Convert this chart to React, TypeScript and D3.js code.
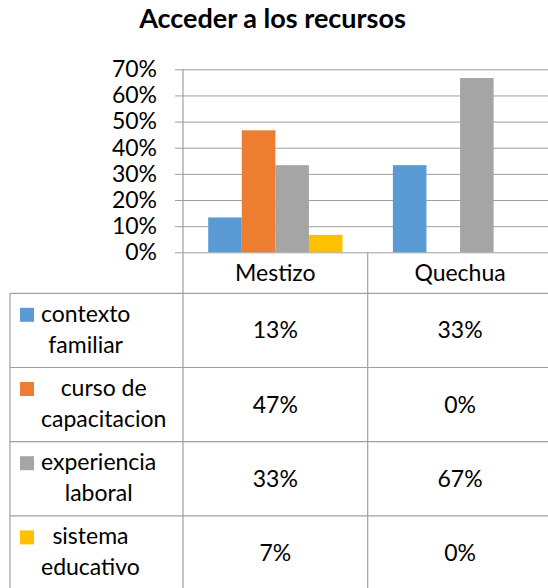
import * as d3 from 'd3';
import { useEffect, useRef } from 'react';

const title = 'Acceder a los recursos';
const categories = ['Mestizo', 'Quechua'];
const seriesNames = ['contexto familiar', 'curso de capacitacion', 'experiencia laboral', 'sistema educativo'];
// how Excel wrapped the legend labels in the data table
const seriesLines = [['contexto', 'familiar'], ['curso de', 'capacitacion'], ['experiencia', 'laboral'], ['sistema', 'educativo']];
const seriesColors = ['#5b9bd5', '#ed7d31', '#a5a5a5', '#ffc000'];
const mestizo = [0.1333, 0.4667, 0.3333, 0.0667];
const quechua = [0.3333, 0, 0.6667, 0];
const yTicks = [0, 0.1, 0.2, 0.3, 0.4, 0.5, 0.6, 0.7];

const FONT = 'Lato, Carlito, Calibri, "Open Sans", sans-serif';

const ChartFactory = (container: HTMLElement) => {
  const width = 548;
  const height = 588;
  const left = 183;
  const top = 69.3;
  const base = 252.3;
  const colW = 184.7;
  const tableLeft = 10;
  const headBottom = 293.3;
  const rowH = 74.2;
  const grid = '#a0a0a0';
  const values = [mestizo, quechua];
  const pct = d3.format('.0%');

  const x = d3.scaleBand<string>().domain(categories).range([left, left + colW * categories.length]);
  const xs = d3.scaleBand<string>().domain(seriesNames).range([0, x.bandwidth()]).paddingInner(0).paddingOuter(0.75);
  const y = d3.scaleLinear().domain([0, 0.7]).range([base, top]);

  const svg = d3.select(container).append('svg')
    .attr('width', width)
    .attr('height', height)
    .attr('viewBox', `0 0 ${width} ${height}`)
    .style('position', 'absolute')
    .style('left', '0px')
    .style('top', '0px')
    .style('background', '#fff')
    .style('font-family', FONT);

  svg.append('text')
    .attr('x', 272.5)
    .attr('y', 28)
    .attr('text-anchor', 'middle')
    .attr('font-size', 27)
    .attr('font-weight', 700)
    .attr('fill', '#000')
    .text(title);

  // gridlines + ticks
  const yAxis = d3.axisLeft(y)
    .tickValues(yTicks)
    .tickFormat(d => pct(d as number))
    .tickSize(-(width - left))
    .tickSizeOuter(0)
    .tickPadding(26);

  const ga = svg.append('g')
    .attr('transform', `translate(${left},0)`)
    .call(yAxis);
  ga.select('.domain').remove();
  ga.selectAll('.tick line')
    .attr('x1', -8)
    .attr('stroke', grid)
    .attr('stroke-width', 1);
  ga.selectAll('.tick text')
    .attr('font-family', FONT)
    .attr('font-size', 23)
    .attr('fill', '#000');

  // bars
  categories.forEach((c, ci) => {
    svg.append('g')
      .selectAll('rect')
      .data(values[ci])
      .join('rect')
      .attr('x', (d, i) => (x(c) as number) + (xs(seriesNames[i]) as number))
      .attr('y', d => y(d))
      .attr('width', xs.bandwidth())
      .attr('height', d => base - y(d))
      .attr('fill', (d, i) => seriesColors[i]);
  });

  // table lines
  const right = left + colW * categories.length;
  const bottom = headBottom + rowH * seriesNames.length;
  const lines = svg.append('g').attr('stroke', grid).attr('stroke-width', 1.2).attr('fill', 'none');
  lines.append('line').attr('x1', left).attr('x2', left).attr('y1', top).attr('y2', bottom);
  categories.forEach(c => {
    const xx = (x(c) as number) + colW;
    lines.append('line').attr('x1', xx).attr('x2', xx).attr('y1', base).attr('y2', bottom);
  });
  lines.append('line').attr('x1', tableLeft).attr('x2', tableLeft).attr('y1', headBottom).attr('y2', bottom);
  d3.range(seriesNames.length + 1).forEach(r => {
    const yy = headBottom + r * rowH;
    lines.append('line').attr('x1', tableLeft).attr('x2', right).attr('y1', yy).attr('y2', yy);
  });

  // category header
  svg.append('g')
    .selectAll('text')
    .data(categories)
    .join('text')
    .attr('x', d => (x(d) as number) + colW / 2)
    .attr('y', 281)
    .attr('text-anchor', 'middle')
    .attr('font-size', 23)
    .attr('fill', '#000')
    .text(d => d);

  // rows
  seriesNames.forEach((s, si) => {
    const rowTop = headBottom + si * rowH;
    svg.append('rect')
      .attr('x', 20)
      .attr('y', rowTop + 14.5)
      .attr('width', 14)
      .attr('height', 14)
      .attr('fill', seriesColors[si]);

    const lab = svg.append('g');
    const texts = lab.selectAll('text')
      .data(seriesLines[si])
      .join('text')
      .attr('y', (d, i) => rowTop + 28.5 + i * 31)
      .attr('text-anchor', 'middle')
      .attr('font-size', 23)
      .attr('fill', '#000')
      .text(d => d);
    let maxW = 0;
    texts.each(function () {
      maxW = Math.max(maxW, (this as SVGTextElement).getComputedTextLength());
    });
    texts.attr('x', 41 + maxW / 2);

    categories.forEach((c, ci) => {
      svg.append('text')
        .attr('x', (x(c) as number) + colW / 2)
        .attr('y', rowTop + 45)
        .attr('text-anchor', 'middle')
        .attr('font-size', 23)
        .attr('fill', '#000')
        .text(pct(values[ci][si]));
    });
  });

  return svg.node();
};

export default function App() {
  const domRef = useRef<HTMLDivElement>(null);
  useEffect(() => {
    if (domRef.current) {
      ChartFactory(domRef.current);
    }
    return () => {
      d3.select(domRef.current).selectAll('svg').remove();
    };
  }, [domRef]);
  return <div ref={domRef}></div>;
}
